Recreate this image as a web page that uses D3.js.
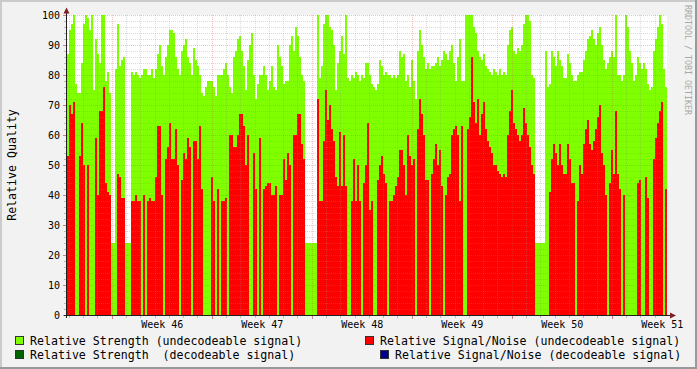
<!DOCTYPE html>
<html>
<head>
<meta charset="utf-8">
<script src="https://cdn.jsdelivr.net/npm/d3@7"></script>
<style>
  html, body { margin: 0; padding: 0; background: #f2f2f2; }
  svg { display: block; }
  text { font-family: "DejaVu Sans Mono", monospace; fill: #000; }
</style>
</head>
<body>
<svg id="canvas"></svg>
<script>
// relative strength, undecodeable signal (one value per consolidated sample)
let strength = [
  87, 95, 97, 100, 77, 74, 74, 84, 97, 100,
  99, 95, 100, 75, 92, 87, 84, 100, 100, 78,
  81, 74, 24, 24, 82, 97, 83, 85, 86, 24,
  24, 24, 81, 80, 81, 80, 79, 80, 82, 82,
  80, 80, 82, 79, 82, 87, 90, 83, 80, 86,
  90, 95, 95, 94, 86, 82, 80, 88, 90, 92,
  86, 84, 80, 89, 85, 83, 80, 74, 73, 76,
  78, 78, 78, 76, 73, 80, 80, 80, 82, 84,
  80, 76, 74, 86, 88, 92, 93, 88, 83, 75,
  85, 90, 94, 80, 72, 77, 80, 80, 83, 80,
  75, 78, 83, 76, 75, 90, 86, 83, 77, 78,
  78, 90, 93, 88, 96, 93, 86, 80, 78, 24,
  24, 24, 24, 24, 24, 100, 79, 83, 97, 100,
  100, 96, 95, 90, 75, 84, 88, 93, 87, 100,
  79, 78, 80, 79, 81, 80, 78, 80, 79, 84,
  84, 80, 77, 76, 75, 77, 85, 83, 80, 81,
  80, 80, 79, 80, 79, 80, 88, 86, 87, 78,
  80, 76, 85, 78, 72, 88, 95, 90, 86, 82,
  84, 82, 83, 83, 84, 86, 83, 85, 88, 87,
  85, 88, 90, 84, 78, 86, 92, 78, 78, 100,
  100, 100, 100, 96, 94, 88, 86, 85, 87, 83,
  82, 81, 80, 82, 81, 80, 82, 80, 81, 80,
  90, 95, 96, 88, 87, 89, 88, 90, 97, 100,
  100, 98, 80, 79, 24, 24, 24, 24, 24, 88,
  76, 77, 88, 86, 83, 88, 85, 83, 79, 79,
  87, 84, 80, 78, 78, 80, 81, 81, 85, 88,
  92, 93, 95, 92, 90, 94, 96, 90, 85, 82,
  84, 86, 88, 86, 100, 80, 80, 78, 80, 100,
  96, 88, 84, 78, 80, 86, 84, 82, 84, 82,
  77, 75, 76, 88, 92, 96, 100, 97, 82, 76
]

// relative signal/noise, undecodeable signal
let snr = [
  53, 70, 67, 71, 0, 0, 53, 64, 50, 0,
  50, 0, 0, 0, 59, 40, 68, 68, 76, 44,
  41, 40, 0, 0, 0, 47, 46, 39, 39, 0,
  0, 0, 38, 38, 40, 38, 38, 0, 40, 0,
  38, 39, 38, 38, 46, 63, 63, 40, 0, 52,
  56, 64, 52, 52, 62, 50, 0, 45, 54, 52,
  59, 56, 0, 58, 58, 52, 63, 42, 0, 0,
  0, 0, 46, 38, 0, 42, 0, 38, 38, 39,
  0, 60, 60, 56, 56, 60, 67, 67, 63, 50,
  60, 0, 0, 54, 42, 0, 59, 0, 42, 43,
  44, 44, 40, 40, 43, 0, 40, 40, 52, 45,
  54, 50, 0, 60, 60, 67, 67, 57, 52, 0,
  0, 0, 0, 0, 0, 72, 38, 38, 58, 75,
  65, 70, 62, 58, 46, 43, 61, 43, 60, 43,
  0, 0, 38, 52, 38, 50, 38, 0, 44, 50,
  64, 35, 38, 0, 0, 45, 50, 53, 47, 44,
  0, 38, 38, 40, 43, 46, 55, 55, 50, 40,
  60, 53, 50, 52, 0, 62, 72, 67, 60, 45,
  45, 0, 47, 52, 57, 50, 55, 43, 0, 40,
  46, 47, 60, 62, 63, 60, 38, 63, 0, 0,
  62, 66, 86, 71, 64, 72, 60, 67, 71, 62,
  58, 56, 54, 50, 50, 48, 47, 46, 47, 46,
  60, 68, 75, 64, 62, 60, 58, 60, 69, 64,
  60, 56, 50, 47, 0, 0, 0, 0, 0, 0,
  0, 41, 52, 57, 54, 50, 57, 50, 47, 47,
  57, 52, 44, 44, 0, 38, 50, 47, 57, 62,
  65, 57, 55, 58, 62, 66, 70, 54, 50, 40,
  0, 44, 55, 47, 68, 47, 42, 0, 40, 0,
  0, 0, 0, 0, 0, 44, 45, 0, 0, 46,
  39, 0, 0, 52, 59, 64, 68, 71, 0, 42
]

// decodeable samples: none show in this period
let strengthDecoded = []
let snrDecoded = []

let yTicks = [0, 10, 20, 30, 40, 50, 60, 70, 80, 90, 100]
let legendNames = [
  'Relative Strength (undecodeable signal)',
  'Relative Signal/Noise (undecodeable signal)',
  'Relative Strength  (decodeable signal)',
  'Relative Signal/Noise (decodeable signal)'
]
let legendColors = ['#80ff00', '#ff0000', '#006400', '#000090']

let width = 697
let height = 369
let plotLeft = 67
let plotRight = 667
let plotTop = 15
let plotBottom = 315

let start = new Date(Date.UTC(2009, 10, 5, 20, 53))
let end = new Date(Date.UTC(2009, 11, 17, 20, 53))
let step = (end - start) / strength.length

let xScale = d3.scaleUtc().domain([start, end]).range([plotLeft, plotRight])
let yScale = d3.scaleLinear().domain([0, 100]).range([plotBottom, plotTop])

let svg = d3.select('#canvas').attr('width', width).attr('height', height)

// background and 3d frame
svg.append('rect').attr('width', width).attr('height', height).attr('fill', '#f2f2f2')
svg.append('rect').attr('x', 0).attr('y', 0).attr('width', width).attr('height', 2).attr('fill', '#cbcbcb')
svg.append('rect').attr('x', 0).attr('y', 0).attr('width', 2).attr('height', height).attr('fill', '#cbcbcb')
svg.append('rect').attr('x', 0).attr('y', height - 2).attr('width', width).attr('height', 2).attr('fill', '#999')
svg.append('rect').attr('x', width - 2).attr('y', 0).attr('width', 2).attr('height', height).attr('fill', '#999')

svg.append('rect')
  .attr('x', plotLeft).attr('y', plotTop)
  .attr('width', plotRight - plotLeft).attr('height', plotBottom - plotTop)
  .attr('fill', '#fff')

let t = (i) => new Date(start.getTime() + i * step)

let drawBars = (values, color) => {
  svg.append('g')
    .attr('shape-rendering', 'crispEdges')
    .selectAll('rect')
    .data(values.map((v, i) => ({ v: v, i: i })).filter(d => d.v > 0))
    .enter()
    .append('rect')
    .attr('x', d => Math.round(xScale(t(d.i))))
    .attr('width', d => Math.round(xScale(t(d.i + 1))) - Math.round(xScale(t(d.i))))
    .attr('y', d => Math.round(yScale(d.v)))
    .attr('height', d => plotBottom - Math.round(yScale(d.v)))
    .attr('fill', color)
}

drawBars(strength, legendColors[0])
drawBars(snr, legendColors[1])
drawBars(strengthDecoded, legendColors[2])
drawBars(snrDecoded, legendColors[3])

// grid on top of the data, dotted like rrdtool
let minorColor = 'rgba(143,143,143,0.33)'
let majorColor = 'rgba(222,80,80,0.35)'
let grid = svg.append('g').attr('shape-rendering', 'crispEdges').attr('stroke-dasharray', '1,1')

let yMinor = d3.range(2, 101, 2).filter(v => v % 10 != 0)
grid.selectAll('.hmin').data(yMinor).enter().append('line')
  .attr('x1', plotLeft).attr('x2', plotRight)
  .attr('y1', d => Math.round(yScale(d)) + 0.5).attr('y2', d => Math.round(yScale(d)) + 0.5)
  .attr('stroke', minorColor)

let days = d3.utcDay.range(start, end).filter(d => d.getUTCDay() != 1)
grid.selectAll('.vmin').data(days).enter().append('line')
  .attr('x1', d => Math.round(xScale(d)) + 0.5).attr('x2', d => Math.round(xScale(d)) + 0.5)
  .attr('y1', plotTop).attr('y2', plotBottom)
  .attr('stroke', minorColor)

grid.selectAll('.hmaj').data(yTicks.filter(v => v > 0)).enter().append('line')
  .attr('x1', plotLeft).attr('x2', plotRight)
  .attr('y1', d => Math.round(yScale(d)) + 0.5).attr('y2', d => Math.round(yScale(d)) + 0.5)
  .attr('stroke', majorColor)

let weeks = d3.utcMonday.range(start, end)
grid.selectAll('.vmaj').data(weeks).enter().append('line')
  .attr('x1', d => Math.round(xScale(d)) + 0.5).attr('x2', d => Math.round(xScale(d)) + 0.5)
  .attr('y1', plotTop).attr('y2', plotBottom)
  .attr('stroke', majorColor)

// small ticks outside the plot
let ticks = svg.append('g').attr('shape-rendering', 'crispEdges')
ticks.selectAll('.ty').data(yMinor).enter().append('line')
  .attr('x1', plotLeft - 3).attr('x2', plotLeft - 1)
  .attr('y1', d => Math.round(yScale(d)) + 0.5).attr('y2', d => Math.round(yScale(d)) + 0.5)
  .attr('stroke', '#bbb')
ticks.selectAll('.tyM').data(yTicks).enter().append('line')
  .attr('x1', plotLeft - 4).attr('x2', plotLeft - 1)
  .attr('y1', d => Math.round(yScale(d)) + 0.5).attr('y2', d => Math.round(yScale(d)) + 0.5)
  .attr('stroke', '#d08080')
ticks.selectAll('.tx').data(days).enter().append('line')
  .attr('x1', d => Math.round(xScale(d)) + 0.5).attr('x2', d => Math.round(xScale(d)) + 0.5)
  .attr('y1', plotBottom + 1).attr('y2', plotBottom + 3)
  .attr('stroke', '#bbb')
ticks.selectAll('.txM').data(weeks).enter().append('line')
  .attr('x1', d => Math.round(xScale(d)) + 0.5).attr('x2', d => Math.round(xScale(d)) + 0.5)
  .attr('y1', plotBottom + 1).attr('y2', plotBottom + 4)
  .attr('stroke', '#d08080')

// axes: labels from d3 axes, rrdtool style lines and arrows drawn by hand
let yAxis = d3.axisLeft(yScale).tickValues(yTicks).tickSize(0).tickPadding(7)
let gy = svg.append('g').attr('transform', 'translate(' + plotLeft + ', 0)').call(yAxis)
gy.select('.domain').remove()
gy.selectAll('text').style('font-family', '"DejaVu Sans Mono", monospace').style('font-size', '10px').attr('fill', '#000')

let mids = weeks.map(d => d3.utcHour.offset(d, 84)).filter(d => d <= end)
let xAxis = d3.axisBottom(xScale).tickValues(mids).tickSize(0).tickPadding(6)
  .tickFormat(d => 'Week ' + d3.utcFormat('%V')(d))
let gx = svg.append('g').attr('transform', 'translate(0, ' + plotBottom + ')').call(xAxis)
gx.select('.domain').remove()
gx.selectAll('text').style('font-family', '"DejaVu Sans Mono", monospace').style('font-size', '10px').attr('fill', '#000')

svg.append('line').attr('x1', plotLeft - 0.5).attr('x2', plotLeft - 0.5).attr('y1', plotBottom + 3).attr('y2', 10)
  .attr('stroke', '#1f1f1f').attr('shape-rendering', 'crispEdges')
svg.append('line').attr('x1', plotLeft - 3).attr('x2', 672).attr('y1', plotBottom + 0.5).attr('y2', plotBottom + 0.5)
  .attr('stroke', '#1f1f1f').attr('shape-rendering', 'crispEdges')
svg.append('polygon').attr('points', '63.5,13.5 69.5,13.5 66.5,7.5').attr('fill', '#7f1f1f')
svg.append('polygon').attr('points', '670,312.5 670,318.5 676,315.5').attr('fill', '#7f1f1f')

// titles
svg.append('text')
  .attr('transform', 'translate(12, ' + ((plotTop + plotBottom) / 2) + ') rotate(-90)')
  .attr('text-anchor', 'middle').attr('dominant-baseline', 'central')
  .style('font-size', '11.6px')
  .text('Relative Quality')

svg.append('text')
  .attr('transform', 'translate(688, 5) rotate(90)')
  .attr('dominant-baseline', 'central')
  .style('font-size', '8.3px').style('fill', '#a8a8a8')
  .text('RRDTOOL / TOBI OETIKER')

// legend
let legendPos = [
  { x: 15, y: 336, tx: 30, ty: 345 },
  { x: 365, y: 336, tx: 380, ty: 345 },
  { x: 15, y: 350, tx: 30, ty: 359 },
  { x: 380, y: 350, tx: 395, ty: 359 }
]
let legend = svg.append('g')
legend.selectAll('rect').data(legendNames).enter().append('rect')
  .attr('x', (d, i) => legendPos[i].x + 0.5).attr('y', (d, i) => legendPos[i].y + 0.5)
  .attr('width', 8).attr('height', 8)
  .attr('fill', (d, i) => legendColors[i])
  .attr('stroke', '#333').attr('shape-rendering', 'crispEdges')
legend.selectAll('text').data(legendNames).enter().append('text')
  .attr('x', (d, i) => legendPos[i].tx).attr('y', (d, i) => legendPos[i].ty)
  .style('font-size', '11.6px').style('white-space', 'pre')
  .text(d => d)
</script>
</body>
</html>
